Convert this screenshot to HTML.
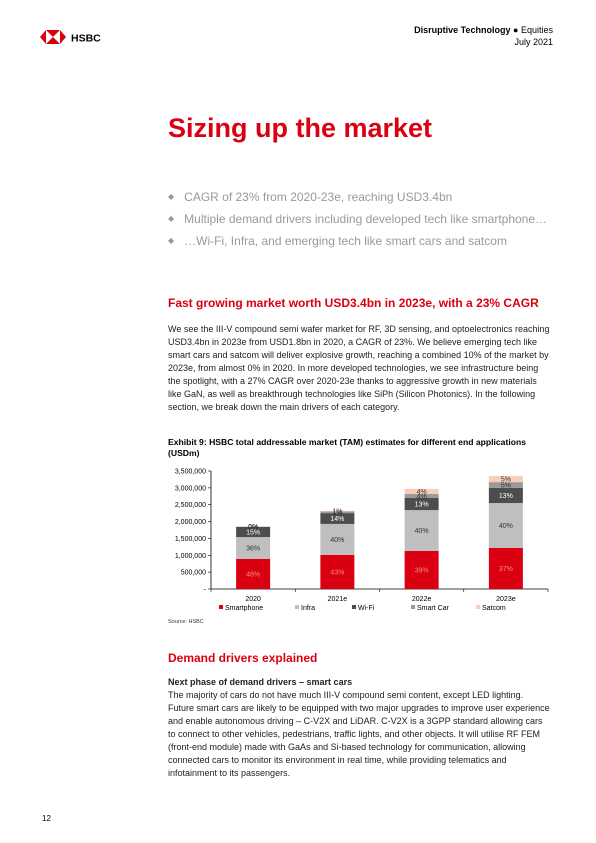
<!DOCTYPE html>
<html><head><meta charset="utf-8">
<style>
*{margin:0;padding:0;box-sizing:border-box}
body{width:596px;height:843px;background:#fff;font-family:"Liberation Sans",Arial,sans-serif;color:#000;position:relative;overflow:hidden}
.abs{position:absolute}
.body{font-size:9px;line-height:13px;color:#222;white-space:nowrap}
</style></head><body>
<div class="abs" style="left:40px;top:27px;width:70px;height:20px">
<svg width="70" height="20" viewBox="0 0 70 20"><polygon points="0,10 6,3 6,17" fill="#db0011"/><polygon points="26,10 20,3 20,17" fill="#db0011"/><polygon points="6,3 20,3 13,10" fill="#db0011"/><polygon points="6,17 20,17 13,10" fill="#db0011"/>
<text x="31" y="14.5" font-family="Liberation Sans" font-weight="bold" font-size="10.5">HSBC</text></svg></div>
<div class="abs" style="right:43px;top:24px;text-align:right;font-size:9px;line-height:12px"><b>Disruptive Technology</b> ● Equities<br>July 2021</div>
<div class="abs" style="left:168px;top:113px;font-size:27px;font-weight:bold;color:#db0011">Sizing up the market</div>
<div class="abs" style="left:168px;top:186px;font-size:12px;line-height:22px;color:#999">
<div><span style="font-size:8px;vertical-align:2px">◆</span> &nbsp;&nbsp;CAGR of 23% from 2020-23e, reaching USD3.4bn</div>
<div><span style="font-size:8px;vertical-align:2px">◆</span> &nbsp;&nbsp;Multiple demand drivers including developed tech like smartphone…</div>
<div><span style="font-size:8px;vertical-align:2px">◆</span> &nbsp;&nbsp;…Wi-Fi, Infra, and emerging tech like smart cars and satcom</div></div>
<div class="abs" style="left:168px;top:296px;font-size:12px;font-weight:bold;color:#db0011">Fast growing market worth USD3.4bn in 2023e, with a 23% CAGR</div>
<div class="abs body" style="left:168px;top:323px">We see the III-V compound semi wafer market for RF, 3D sensing, and optoelectronics reaching<br>USD3.4bn in 2023e from USD1.8bn in 2020, a CAGR of 23%. We believe emerging tech like<br>smart cars and satcom will deliver explosive growth, reaching a combined 10% of the market by<br>2023e, from almost 0% in 2020. In more developed technologies, we see infrastructure being<br>the spotlight, with a 27% CAGR over 2020-23e thanks to aggressive growth in new materials<br>like GaN, as well as breakthrough technologies like SiPh (Silicon Photonics). In the following<br>section, we break down the main drivers of each category.</div>
<div class="abs" style="left:168px;top:437px;font-size:8.6px;font-weight:bold;line-height:11px">Exhibit 9: HSBC total addressable market (TAM) estimates for different end applications<br>(USDm)</div>
<svg class="abs" id="chart" style="left:0;top:0" width="596" height="640"></svg>
<div class="abs" style="left:168px;top:619px;font-size:5.5px;color:#333">Source: HSBC</div>
<div class="abs" style="left:168px;top:651px;font-size:12px;font-weight:bold;color:#db0011">Demand drivers explained</div>
<div class="abs body" style="left:168px;top:676px;font-weight:bold">Next phase of demand drivers – smart cars</div>
<div class="abs body" style="left:168px;top:689px">The majority of cars do not have much III-V compound semi content, except LED lighting.<br>Future smart cars are likely to be equipped with two major upgrades to improve user experience<br>and enable autonomous driving – C-V2X and LiDAR. C-V2X is a 3GPP standard allowing cars<br>to connect to other vehicles, pedestrians, traffic lights, and other objects. It will utilise RF FEM<br>(front-end module) made with GaAs and Si-based technology for communication, allowing<br>connected cars to monitor its environment in real time, while providing telematics and<br>infotainment to its passengers.</div>
<div class="abs" style="left:42px;top:814px;font-size:8px">12</div>
<script>
const categories=["2020","2021e","2022e","2023e"];
const seriesNames=["Smartphone","Infra","Wi-Fi","Smart Car","Satcom"];
const smartphone=[890000,1010000,1130000,1220000];
const infra=[650000,920000,1210000,1330000];
const wifi=[300000,320000,360000,450000];
const smartCar=[10000,50000,120000,170000];
const satcom=[5000,20000,150000,180000];
const pctLabels=[["48%","36%","15%","0%","0%"],["43%","40%","14%","1%","1%"],["39%","40%","13%","4%","4%"],["37%","40%","13%","5%","5%"]];
const yTicks=[0,500000,1000000,1500000,2000000,2500000,3000000,3500000];
const colors=["#db0011","#bfbfbf","#4d4d4d","#999999","#f9cdb7"];
const series=[smartphone,infra,wifi,smartCar,satcom];
const svg=document.getElementById('chart');
const NS="http://www.w3.org/2000/svg";
const x0=211,x1=548,yb=589,yt=471,ymax=3500000;
const y=v=>yb-(v/ymax)*(yb-yt);
const bw=(x1-x0)/categories.length;
const xc=i=>x0+bw*(i+0.5);
function mk(t,a){const e=document.createElementNS(NS,t);for(const k in a)e.setAttribute(k,a[k]);svg.appendChild(e);return e;}
const ax=mk('line',{x1:x0,y1:yt,x2:x0,y2:yb,stroke:'#000','stroke-width':0.8});


const bx=mk('line',{x1:x0,y1:yb,x2:x1,y2:yb,stroke:'#000','stroke-width':0.8});


yTicks.forEach(v=>{
 mk('line',{x1:x0-3,y1:y(v),x2:x0,y2:y(v),stroke:'#000','stroke-width':0.6});
 const t=mk('text',{x:x0-5,y:y(v)+2.5,'text-anchor':'end','font-size':7,'font-family':'Liberation Sans'});
 t.textContent=v===0?'-':v.toLocaleString('en-US');
 
 
});
for(let i=0;i<=categories.length;i++)mk('line',{x1:x0+bw*i,y1:yb,x2:x0+bw*i,y2:yb+3,stroke:'#000','stroke-width':0.6});
categories.forEach((c,i)=>{
 let acc=0;
 series.forEach((s,j)=>{
  const v=s[i];
  const r=mk('rect',{x:xc(i)-17,y:y(acc+v),width:34,height:y(acc)-y(acc+v),fill:colors[j]});
  
  
  const ly=(y(acc)+y(acc+v))/2+2.5;
  const t=mk('text',{x:xc(i),y:ly,'text-anchor':'middle','font-size':7,'font-family':'Liberation Sans',fill:j===0?'#f08a8a':(j===2?'#fff':'#333')});
  t.textContent=pctLabels[i][j];
  
  
  acc+=v;
 });
 const t=mk('text',{x:xc(i),y:yb+12,'text-anchor':'middle','font-size':7,'font-family':'Liberation Sans'});
 t.textContent=c;
 
 
});
const lx=[219,295,352,411,476];
seriesNames.forEach((n,j)=>{
 const r=mk('rect',{x:lx[j],y:605,width:4,height:4,fill:colors[j]});
 
 
 const t=mk('text',{x:lx[j]+6,y:610,'font-size':7,'font-family':'Liberation Sans'});
 t.textContent=n;
 
 
});
</script>
</body></html>
